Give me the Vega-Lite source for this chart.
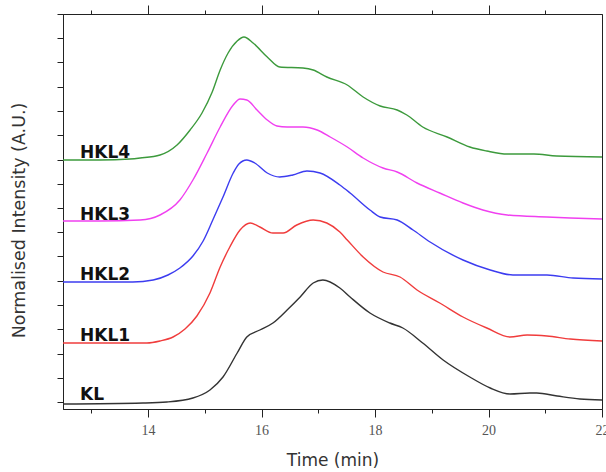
{
  "$schema": "https://vega.github.io/schema/vega-lite/v6.json",
  "width": 539,
  "height": 395,
  "autosize": "none",
  "padding": {"left": 63, "top": 14, "right": 4, "bottom": 63},
  "background": "white",
  "config": {
    "view": {"stroke": "#222", "strokeWidth": 1},
    "axis": {"grid": false, "domainColor": "#222", "tickColor": "#222", "labelColor": "#555", "titleColor": "#333"}
  },
  "datasets": {
    "curves": [
      {"s": "HKL4", "t": 12.5, "v": 249}, {"s": "HKL4", "t": 13.15, "v": 249}, {"s": "HKL4", "t": 13.68, "v": 250}, {"s": "HKL4", "t": 13.86, "v": 251}, {"s": "HKL4", "t": 14.21, "v": 254}, {"s": "HKL4", "t": 14.51, "v": 264}, {"s": "HKL4", "t": 14.74, "v": 279}, {"s": "HKL4", "t": 14.95, "v": 296}, {"s": "HKL4", "t": 15.13, "v": 317}, {"s": "HKL4", "t": 15.27, "v": 339}, {"s": "HKL4", "t": 15.41, "v": 356}, {"s": "HKL4", "t": 15.57, "v": 368}, {"s": "HKL4", "t": 15.69, "v": 372}, {"s": "HKL4", "t": 15.85, "v": 366}, {"s": "HKL4", "t": 16.1, "v": 352}, {"s": "HKL4", "t": 16.32, "v": 342}, {"s": "HKL4", "t": 16.73, "v": 341}, {"s": "HKL4", "t": 16.91, "v": 339}, {"s": "HKL4", "t": 17.15, "v": 332}, {"s": "HKL4", "t": 17.51, "v": 324}, {"s": "HKL4", "t": 17.79, "v": 312}, {"s": "HKL4", "t": 18.09, "v": 303}, {"s": "HKL4", "t": 18.39, "v": 299}, {"s": "HKL4", "t": 18.56, "v": 294}, {"s": "HKL4", "t": 18.84, "v": 282}, {"s": "HKL4", "t": 19.27, "v": 272}, {"s": "HKL4", "t": 19.67, "v": 262}, {"s": "HKL4", "t": 19.97, "v": 258}, {"s": "HKL4", "t": 20.33, "v": 255}, {"s": "HKL4", "t": 20.8, "v": 255}, {"s": "HKL4", "t": 21.2, "v": 253}, {"s": "HKL4", "t": 22.0, "v": 252},
      {"s": "HKL3", "t": 12.5, "v": 188}, {"s": "HKL3", "t": 13.15, "v": 188}, {"s": "HKL3", "t": 13.86, "v": 189}, {"s": "HKL3", "t": 14.21, "v": 194}, {"s": "HKL3", "t": 14.56, "v": 209}, {"s": "HKL3", "t": 14.79, "v": 229}, {"s": "HKL3", "t": 15.04, "v": 256}, {"s": "HKL3", "t": 15.27, "v": 282}, {"s": "HKL3", "t": 15.5, "v": 304}, {"s": "HKL3", "t": 15.62, "v": 310}, {"s": "HKL3", "t": 15.74, "v": 309}, {"s": "HKL3", "t": 15.92, "v": 299}, {"s": "HKL3", "t": 16.1, "v": 289}, {"s": "HKL3", "t": 16.27, "v": 283}, {"s": "HKL3", "t": 16.45, "v": 282}, {"s": "HKL3", "t": 16.73, "v": 282}, {"s": "HKL3", "t": 16.98, "v": 279}, {"s": "HKL3", "t": 17.21, "v": 272}, {"s": "HKL3", "t": 17.51, "v": 262}, {"s": "HKL3", "t": 17.79, "v": 251}, {"s": "HKL3", "t": 18.14, "v": 241}, {"s": "HKL3", "t": 18.39, "v": 237}, {"s": "HKL3", "t": 18.74, "v": 226}, {"s": "HKL3", "t": 19.14, "v": 216}, {"s": "HKL3", "t": 19.55, "v": 206}, {"s": "HKL3", "t": 19.9, "v": 199}, {"s": "HKL3", "t": 20.33, "v": 194}, {"s": "HKL3", "t": 21.03, "v": 192}, {"s": "HKL3", "t": 21.44, "v": 191}, {"s": "HKL3", "t": 22.0, "v": 190},
      {"s": "HKL2", "t": 12.5, "v": 127}, {"s": "HKL2", "t": 13.73, "v": 127}, {"s": "HKL2", "t": 14.09, "v": 129}, {"s": "HKL2", "t": 14.35, "v": 134}, {"s": "HKL2", "t": 14.56, "v": 141}, {"s": "HKL2", "t": 14.79, "v": 153}, {"s": "HKL2", "t": 14.97, "v": 168}, {"s": "HKL2", "t": 15.14, "v": 189}, {"s": "HKL2", "t": 15.32, "v": 212}, {"s": "HKL2", "t": 15.5, "v": 236}, {"s": "HKL2", "t": 15.6, "v": 245}, {"s": "HKL2", "t": 15.74, "v": 249}, {"s": "HKL2", "t": 15.88, "v": 246}, {"s": "HKL2", "t": 16.1, "v": 236}, {"s": "HKL2", "t": 16.32, "v": 232}, {"s": "HKL2", "t": 16.55, "v": 234}, {"s": "HKL2", "t": 16.8, "v": 238}, {"s": "HKL2", "t": 17.03, "v": 236}, {"s": "HKL2", "t": 17.38, "v": 224}, {"s": "HKL2", "t": 17.56, "v": 216}, {"s": "HKL2", "t": 17.91, "v": 199}, {"s": "HKL2", "t": 18.09, "v": 192}, {"s": "HKL2", "t": 18.39, "v": 189}, {"s": "HKL2", "t": 18.67, "v": 179}, {"s": "HKL2", "t": 18.97, "v": 167}, {"s": "HKL2", "t": 19.55, "v": 149}, {"s": "HKL2", "t": 20.03, "v": 139}, {"s": "HKL2", "t": 20.43, "v": 134}, {"s": "HKL2", "t": 21.03, "v": 134}, {"s": "HKL2", "t": 21.49, "v": 131}, {"s": "HKL2", "t": 22.0, "v": 130},
      {"s": "HKL1", "t": 12.5, "v": 66}, {"s": "HKL1", "t": 13.98, "v": 66}, {"s": "HKL1", "t": 14.21, "v": 68}, {"s": "HKL1", "t": 14.44, "v": 72}, {"s": "HKL1", "t": 14.65, "v": 80}, {"s": "HKL1", "t": 14.86, "v": 93}, {"s": "HKL1", "t": 15.09, "v": 116}, {"s": "HKL1", "t": 15.27, "v": 142}, {"s": "HKL1", "t": 15.44, "v": 162}, {"s": "HKL1", "t": 15.62, "v": 179}, {"s": "HKL1", "t": 15.8, "v": 186}, {"s": "HKL1", "t": 15.97, "v": 182}, {"s": "HKL1", "t": 16.2, "v": 176}, {"s": "HKL1", "t": 16.38, "v": 176}, {"s": "HKL1", "t": 16.62, "v": 184}, {"s": "HKL1", "t": 16.91, "v": 189}, {"s": "HKL1", "t": 17.15, "v": 186}, {"s": "HKL1", "t": 17.38, "v": 177}, {"s": "HKL1", "t": 17.51, "v": 169}, {"s": "HKL1", "t": 17.79, "v": 152}, {"s": "HKL1", "t": 18.14, "v": 137}, {"s": "HKL1", "t": 18.44, "v": 132}, {"s": "HKL1", "t": 18.74, "v": 119}, {"s": "HKL1", "t": 19.14, "v": 106}, {"s": "HKL1", "t": 19.55, "v": 92}, {"s": "HKL1", "t": 19.97, "v": 81}, {"s": "HKL1", "t": 20.38, "v": 72}, {"s": "HKL1", "t": 20.68, "v": 74}, {"s": "HKL1", "t": 21.03, "v": 73}, {"s": "HKL1", "t": 21.44, "v": 70}, {"s": "HKL1", "t": 22.0, "v": 68},
      {"s": "KL", "t": 12.5, "v": 5}, {"s": "KL", "t": 13.91, "v": 6}, {"s": "KL", "t": 14.33, "v": 7}, {"s": "KL", "t": 14.79, "v": 11}, {"s": "KL", "t": 15.09, "v": 19}, {"s": "KL", "t": 15.32, "v": 32}, {"s": "KL", "t": 15.57, "v": 56}, {"s": "KL", "t": 15.74, "v": 72}, {"s": "KL", "t": 15.97, "v": 79}, {"s": "KL", "t": 16.2, "v": 86}, {"s": "KL", "t": 16.45, "v": 99}, {"s": "KL", "t": 16.68, "v": 112}, {"s": "KL", "t": 16.91, "v": 126}, {"s": "KL", "t": 17.08, "v": 129}, {"s": "KL", "t": 17.38, "v": 121}, {"s": "KL", "t": 17.56, "v": 112}, {"s": "KL", "t": 17.91, "v": 96}, {"s": "KL", "t": 18.26, "v": 86}, {"s": "KL", "t": 18.49, "v": 81}, {"s": "KL", "t": 18.84, "v": 66}, {"s": "KL", "t": 19.2, "v": 49}, {"s": "KL", "t": 19.67, "v": 32}, {"s": "KL", "t": 20.03, "v": 21}, {"s": "KL", "t": 20.38, "v": 15}, {"s": "KL", "t": 20.73, "v": 16}, {"s": "KL", "t": 20.85, "v": 16}, {"s": "KL", "t": 21.21, "v": 13}, {"s": "KL", "t": 21.61, "v": 10}, {"s": "KL", "t": 22.0, "v": 9}
    ],
    "labels": [
      {"label": "HKL4", "t": 12.8, "v": 251},
      {"label": "HKL3", "t": 12.8, "v": 189.5},
      {"label": "HKL2", "t": 12.8, "v": 129},
      {"label": "HKL1", "t": 12.8, "v": 68},
      {"label": "KL", "t": 12.8, "v": 9}
    ]
  },
  "layer": [
    {
      "data": {"name": "curves"},
      "mark": {"type": "line", "interpolate": "monotone", "strokeWidth": 1.4, "clip": true},
      "encoding": {
        "x": {
          "field": "t", "type": "quantitative",
          "scale": {"domain": [12.5, 22], "nice": false, "zero": false},
          "axis": {
            "orient": "bottom",
            "values": [13, 14, 15, 16, 17, 18, 19, 20, 21, 22],
            "labelExpr": "datum.value % 2 === 0 ? datum.label : ''",
            "tickSize": {"condition": {"test": "datum.value % 2 === 0", "value": 8}, "value": 4},
            "labelFont": "Liberation Serif", "labelFontSize": 14, "labelPadding": 6,
            "labelFlush": false, "labelOverlap": false,
            "title": "Time (min)", "titleFont": "DejaVu Sans", "titleFontSize": 17, "titleFontWeight": "normal", "titlePadding": 15
          }
        },
        "y": {
          "field": "v", "type": "quantitative",
          "scale": {"domain": [0, 395], "nice": false, "zero": false},
          "axis": {
            "orient": "left",
            "values": [7, 31.25, 55.5, 79.75, 104, 128.25, 152.5, 176.75, 201, 225.25, 249.5, 273.75, 298, 322.25, 346.5, 370.75, 395],
            "labels": false, "tickSize": 6,
            "title": "Normalised Intensity (A.U.)", "titleFont": "DejaVu Sans", "titleFontSize": 17.5, "titleFontWeight": "normal", "titlePadding": 28, "titleY": 206
          }
        },
        "color": {
          "field": "s", "type": "nominal",
          "scale": {"domain": ["HKL4", "HKL3", "HKL2", "HKL1", "KL"], "range": ["#3c9a3c", "#f040f0", "#3c3cf0", "#f03c3c", "#333333"]},
          "legend": null
        }
      }
    },
    {
      "data": {"name": "labels"},
      "mark": {"type": "text", "align": "left", "baseline": "alphabetic", "font": "DejaVu Sans", "fontWeight": "bold", "fontSize": 17, "color": "#111"},
      "encoding": {
        "x": {
          "field": "t", "type": "quantitative",
          "axis": {
            "orient": "top",
            "values": [13, 14, 15, 16, 17, 18, 19, 20, 21],
            "labels": false,
            "tickSize": {"condition": {"test": "datum.value % 2 === 0", "value": 9}, "value": 4},
            "title": null
          }
        },
        "y": {
          "field": "v", "type": "quantitative",
          "axis": {
            "orient": "left",
            "values": [7, 31.25, 55.5, 79.75, 104, 128.25, 152.5, 176.75, 201, 225.25, 249.5, 273.75, 298, 322.25, 346.5, 370.75, 395],
            "labels": false, "tickSize": 6,
            "title": "Normalised Intensity (A.U.)", "titleFont": "DejaVu Sans", "titleFontSize": 17.5, "titleFontWeight": "normal", "titlePadding": 28, "titleY": 206
          }
        },
        "text": {"field": "label"}
      }
    }
  ],
  "resolve": {"axis": {"x": "independent"}}
}
